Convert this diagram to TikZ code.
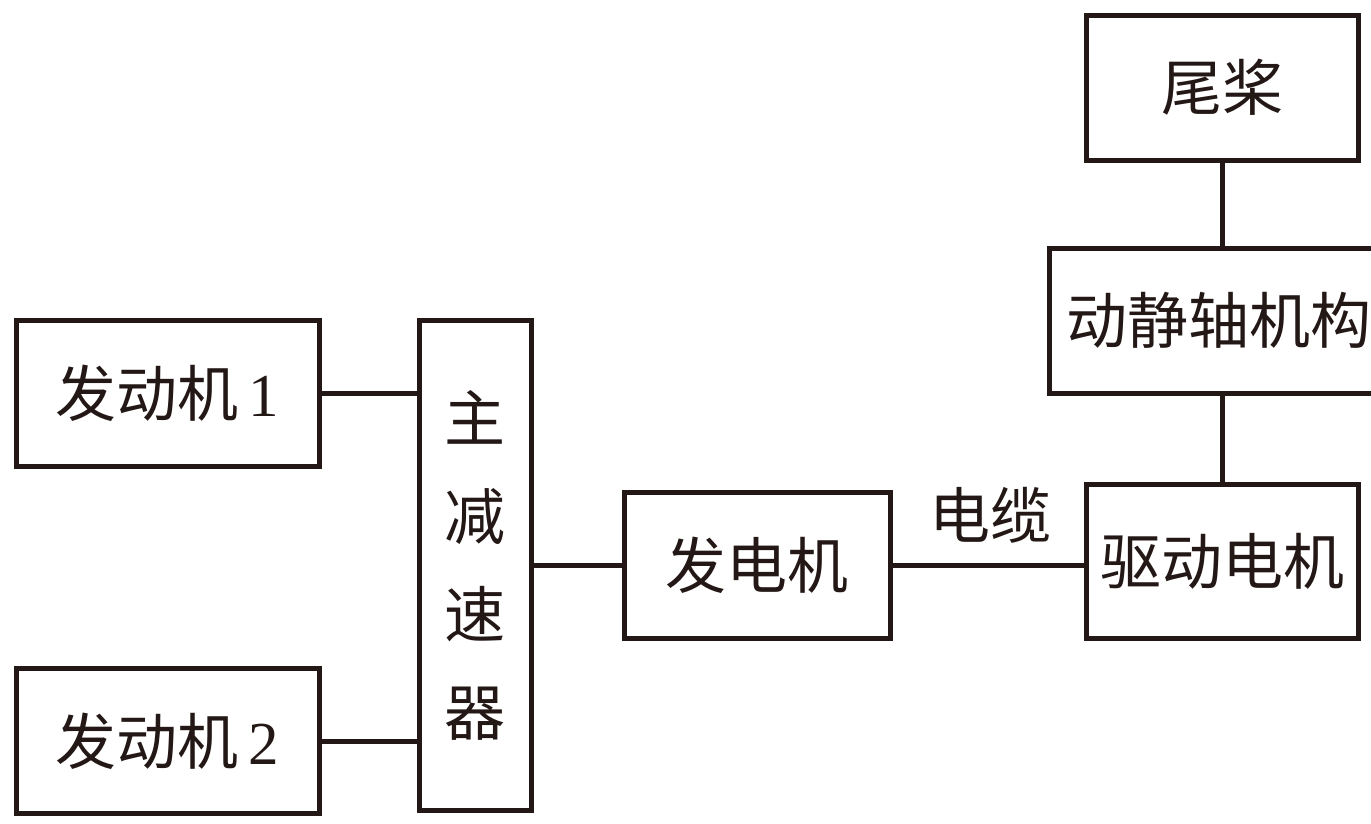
\documentclass[tikz,border=0pt]{standalone}
\usepackage{fontspec}
\setmainfont{Noto Sans CJK SC}
\newfontfamily\digitfont{Liberation Serif}
\definecolor{ink}{HTML}{231815}
\begin{document}
\begin{tikzpicture}[x=1pt,y=-1pt,
  box/.style={draw=ink, line width=5pt, rectangle, inner sep=0pt, text=ink,
    font=\fontsize{61}{98}\selectfont, align=center},
  conn/.style={draw=ink, line width=5pt}]
\useasboundingbox[fill=white] (0,0) rectangle (1371,823);
\node[box, minimum width=303, minimum height=146] (e1) at (167.5,393) {发动机\hspace{10pt}{\digitfont 1}};
\node[box, minimum width=303, minimum height=145] (e2) at (167.5,741) {发动机\hspace{10pt}{\digitfont 2}};
\node[box, minimum width=112, minimum height=490] (gear) at (475,565) {主\\减\\速\\器};
\node[box, minimum width=266, minimum height=146] (gen) at (757,565) {发电机};
\node[box, minimum width=272, minimum height=154] (drive) at (1222,561) {驱动电机};
\node[box, minimum width=340, minimum height=145] (shaft) at (1219,320.5) {动静轴机构};
\node[box, minimum width=272, minimum height=145] (tail) at (1222,87.5) {尾桨};
\node[text=ink, font=\fontsize{61}{70}\selectfont, inner sep=0pt] (cable) at (990,515) {电缆};
\draw[conn] (e1.east) -- (e1.east -| gear.west);
\draw[conn] (e2.east) -- (e2.east -| gear.west);
\draw[conn] (gear.east |- gen.west) -- (gen.west);
\draw[conn] (gen.east) -- (gen.east -| drive.west);
\draw[conn] (tail.south) -- (tail.south |- shaft.north);
\draw[conn] (drive.north |- shaft.south) -- (drive.north);
\end{tikzpicture}
\end{document}
